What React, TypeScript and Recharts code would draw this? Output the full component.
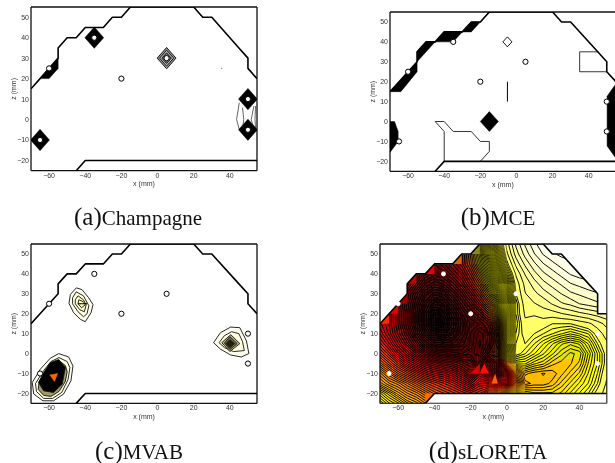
import React from "react";
import { Scatter, ScatterChart, XAxis, YAxis } from "recharts";

type Pair = [number, number];
type Pt = { x: number; z: number };

const xTicks = [-60, -40, -20, 0, 20, 40];
const zTicks = [-20, -10, 0, 10, 20, 30, 40, 50];

// dipole positions, same in all four panels
const sources: Pair[] = [[-60, 25], [-35, 40], [-20, 20], [5, 30], [50, 10], [50, -5], [-65, -10]];

// boundary of the source space
const headTop: Pair[] = [[-70, 15], [-65, 20], [-60, 25], [-55, 30], [-55, 35], [-50, 40], [-45, 40], [-40, 45], [-30, 45], [-25, 50], [-20, 50], [-15, 55], [20, 55], [25, 50], [30, 50], [45, 35], [50, 30], [50, 25], [55, 20]];
const headTopD: Pair[] = [[-70, 15], [-65, 20], [-60, 25], [-55, 30], [-55, 35], [-50, 40], [-45, 40], [-40, 45], [-30, 45], [-25, 50], [-20, 50], [-15, 55], [20, 55], [25, 50], [30, 50], [45, 35], [50, 30], [50, 20], [55, 20]];
const headBottom: Pair[] = [[-45, -25], [-40, -20], [55, -20]];
const plotFrame: Pair[] = [[-70, -25], [-70, 55], [55, 55], [55, -25], [-70, -25]];

// (a) Champagne
const champBlob: Pair[] = [[-65, 20], [-60, 20], [-55, 25], [-55, 30], [-60, 25]];
const champFan: Pair[][] = [
  [[45.2, 8.2], [43.7, 0], [45.2, -4.8]],
  [[47, 5.8], [47.7, 0], [47, -4.8]],
  [[53.3, 6.6], [51.8, 0], [53.3, -4.8]],
  [[54.2, 6.6], [53.9, 0], [54.2, -4]],
];
const champSpeck: Pair[] = [[35.2, 25], [35.8, 25]];

// (b) MCE
const mceBand: Pair[] = [[-70, 15], [-55, 30], [-55, 35], [-50, 40], [-45, 40], [-40, 45], [-30, 45], [-25, 50], [-20, 50], [-15, 55], [-25, 45], [-30, 45], [-35, 40], [-45, 40], [-50, 35], [-55, 30], [-55, 25], [-64, 15]];
const mceLeft: Pair[] = [[-70, 0], [-67.5, 0], [-65.5, -5], [-65.5, -10], [-70, -15.5]];
const mceRight: Pair[] = [[55.5, 19.5], [50.2, 12.7], [50.2, -12.3], [55.5, -19]];
const mceBox: Pair[] = [[45, 35], [35, 35], [35, 25], [50, 25]];
const mceShape: Pair[] = [[-40, -20], [-40, -5], [-45, 0], [-40, 0], [-35, -5], [-25, -5], [-20, -10], [-15, -10], [-15, -15], [-20, -20]];
const mceBar: Pair[] = [[-5, 20], [-5, 10]];

// (c) MVAB contours, outer to inner
const mvabUpper: Pair[][] = [
  [[-44.9, 33], [-41.8, 32.1], [-38.1, 28], [-35.7, 24.6], [-36.8, 20.5], [-40, 16], [-42.7, 17.2], [-46.4, 20.5], [-49, 25.2], [-48.2, 29.7]],
  [[-45, 31], [-41, 29], [-38, 24], [-39, 20], [-41, 18.5], [-44, 21], [-47, 25], [-47, 28]],
  [[-44, 29], [-41, 27], [-39.5, 24.5], [-40.5, 21], [-43, 22], [-45.5, 25], [-45.5, 27]],
  [[-43.5, 27], [-41, 26], [-40, 24.5], [-42, 23], [-44, 25]],
];
const mvabUpperBar: Pair[] = [[-44, 25], [-39, 25]];
const mvabRight: Pair[][] = [
  [[40.4, 13.3], [45.5, 13], [49.2, 6.3], [50.5, 0], [46.3, -1.7], [40.4, -0.7], [34.8, 2.2], [31, 5.5], [34.8, 10.5]],
  [[41, 11], [45, 10], [47, 6], [48, 1.5], [42, 1], [37, 3], [34, 5.5], [37, 9]],
  [[40.5, 9.5], [45.5, 5], [40, 1], [35.5, 5.5]],
  [[40, 8.5], [44, 5], [40, 2], [37, 5.3]],
  [[40, 7], [42.5, 5], [40, 3], [38, 5]],
];
const mvabLower: Pair[][] = [
  [[-54.7, 0], [-49.2, -1.7], [-46.8, -6.2], [-47.9, -13.7], [-52, -20.3], [-57.5, -23.7], [-63.4, -23.7], [-68.5, -20.3], [-69.3, -14.5], [-64.9, -7.9], [-59.3, -2.3]],
  [[-54.5, -2], [-50, -4], [-48.5, -7], [-49.5, -13], [-53, -19.5], [-58, -22.5], [-63, -22.5], [-67, -19], [-67.5, -15], [-63, -8.5], [-59, -4]],
  [[-54.5, -3.5], [-51, -6], [-50, -9], [-51, -14], [-54.5, -19], [-59, -21.5], [-63, -21], [-66, -18], [-65.5, -14], [-61.5, -9], [-58, -5]],
  [[-54.7, -3], [-51, -7], [-52.8, -15.4], [-57.5, -19.5], [-63, -18.7], [-65.8, -14.5], [-63, -9.5], [-59.3, -4.5]],
];
const mvabFills = ["#fffff0", "#ffffe0", "#a09a68", "#000000"];
const mvabUpperFills = ["#fffff0", "#ffffe0", "#ffffd0", "#ffffb8"];
const mvabRightFills = ["#fffff0", "#ffffe0", "#b8b488", "#70704a", "#202010"];
const mvabPeak: Pair[] = [[-59.6, -10.7], [-55.3, -10], [-57, -14]];

// (d) sLORETA source power in percent, 5 mm grid, rows from z = 55 down to z = -25
const gridX = [-70, -65, -60, -55, -50, -45, -40, -35, -30, -25, -20, -15, -10, -5, 0, 5, 10, 15, 20, 25, 30, 35, 40, 45, 50, 55];
const gridZ = [55, 50, 45, 40, 35, 30, 25, 20, 15, 10, 5, 0, -5, -10, -15, -20, -25];
const loreta: number[][] = [
  [60, 55, 50, 45, 42, 38, 33, 31, 30, 32, 36, 42, 55, 68, 78, 85, 90, 94, 97, 98, 99, 99, 99, 99, 99, 99],
  [55, 50, 46, 41, 37, 33, 28, 27, 27, 30, 36, 44, 54, 65, 76, 83, 88, 92, 95, 97, 98, 98, 98, 98, 98, 98],
  [50, 46, 42, 37, 32, 27, 22, 24, 27, 30, 35, 42, 50, 62, 73, 80, 85, 89, 92, 94, 96, 97, 97, 97, 97, 97],
  [46, 42, 37, 32, 27, 22, 20, 21, 24, 27, 32, 38, 46, 57, 69, 77, 82, 86, 89, 91, 93, 95, 96, 96, 96, 96],
  [42, 38, 33, 28, 23, 18, 16, 17, 20, 24, 29, 34, 41, 52, 65, 75, 80, 83, 86, 88, 90, 92, 93, 94, 94, 95],
  [40, 36, 30, 24, 19, 14, 11, 12, 16, 20, 25, 30, 36, 45, 62, 74, 79, 81, 83, 85, 87, 89, 90, 91, 92, 93],
  [37, 33, 28, 23, 17, 11, 7, 8, 12, 17, 21, 26, 31, 38, 58, 72, 78, 79, 80, 82, 84, 85, 87, 88, 89, 90],
  [37, 33, 28, 22, 16, 9, 3, 4, 9, 14, 18, 21, 25, 26, 55, 72, 77, 77, 78, 78, 79, 80, 81, 82, 83, 84],
  [36, 33, 28, 22, 16, 9, 2, 2, 7, 12, 16, 17, 20, 14, 55, 71, 76, 75, 75, 74, 74, 74, 75, 76, 78, 80],
  [38, 34, 29, 24, 18, 12, 7, 6, 9, 13, 17, 20, 18, 10, 55, 72, 75, 74, 73, 72, 71, 70, 71, 72, 75, 78],
  [41, 37, 32, 27, 22, 17, 13, 12, 13, 15, 17, 21, 17, 12, 60, 73, 74, 72, 70, 68, 66, 65, 66, 69, 73, 76],
  [45, 41, 36, 32, 28, 24, 21, 20, 19, 18, 19, 20, 14, 14, 62, 74, 72, 70, 68, 66, 64, 62.4, 63, 67, 71, 75],
  [50, 46, 42, 38, 35, 32, 30, 28, 27, 25, 23, 17, 20, 15, 58, 68, 68, 66, 65, 63, 62.2, 62.5, 64, 68, 71, 75],
  [56, 52, 48, 45, 42, 39, 37, 36, 34, 31, 27, 33, 27, 12, 25, 55, 62, 61, 60.5, 61, 62.3, 64, 66, 69, 72, 76],
  [60, 57, 55, 52, 49, 46, 44, 42, 40, 37, 34, 38, 38, 35, 28, 50, 60, 61, 61, 62, 64, 66, 68, 70, 73, 77],
  [66, 63, 60, 57, 55, 52, 49, 47, 45, 43, 41, 43, 47, 52, 66, 68, 66, 65, 65, 65, 66, 68, 70, 72, 75, 78],
  [70, 67, 65, 62, 60, 57, 54, 52, 50, 48, 46, 48, 52, 58, 68, 70, 68, 67, 67, 67, 68, 70, 72, 74, 77, 80],
];
const loretaTriangles: { pts: Pair[]; color: string }[] = [
  { pts: [[-45, 40], [-40, 45], [-40, 40]], color: "#e80000" },
  { pts: [[-55, 35], [-50, 40], [-50, 35]], color: "#c80000" },
  { pts: [[-60, 25], [-55, 30], [-55, 25]], color: "#a00000" },
  { pts: [[-65, 20], [-60, 25], [-60, 20]], color: "#e80000" },
  { pts: [[-70, 15], [-65, 20], [-65, 15]], color: "#f03000" },
  { pts: [[-30, 45], [-25, 50], [-25, 45]], color: "#d86000" },
  { pts: [[-20, 50], [-15, 55], [-15, 50]], color: "#8a8a10" },
  { pts: [[-45, -25], [-40, -20], [-45, -20]], color: "#ff7000" },
  { pts: [[-20, -10], [-15, -5], [-15, -10]], color: "#e00000" },
  { pts: [[-15, -10], [-12.5, -5], [-10, -10]], color: "#ff1000" },
  { pts: [[-8.5, -15], [-6.5, -10], [-5, -15]], color: "#ff6000" },
];
const colorStops: [number, number, number, number][] = [
  [0, 0, 0, 0], [20, 85, 0, 0], [37, 215, 0, 0], [50, 255, 112, 0], [60, 255, 176, 0], [62, 255, 195, 0], [66, 255, 235, 0],
  [70, 255, 255, 0], [74, 255, 255, 96], [85, 255, 255, 176], [100, 255, 255, 255],
];
// stroke width of a contour by how steep its grid cell is, thinner where lines crowd
const steepLimits = [7, 10, 14, 20, 1000];
const steepWidths = [0.95, 0.8, 0.6, 0.4, 0.25];
// contour levels get wider apart towards the pale end
const levels: number[] = [];
for (let l = 0.6; l < 100; l += l < 60 ? 1.25 : l < 73 ? 1.03 : 2.6) levels.push(l);

function colorOf(v: number, olive: number) {
  let i = 0;
  while (i < colorStops.length - 2 && v > colorStops[i + 1][0]) i++;
  const a = colorStops[i];
  const b = colorStops[i + 1];
  const t = Math.min(1, Math.max(0, (v - a[0]) / (b[0] - a[0])));
  const mix = (k: number) => a[k] + (b[k] - a[k]) * t;
  // olive side of the field: black to yellow without passing through red
  const g = v < 70 ? (255 * v) / 70 : 0;
  const w = v < 70 ? olive : 0;
  const r = Math.round(mix(1) * (1 - w) + g * w);
  const gr = Math.round(mix(2) * (1 - w) + g * w);
  const bl = Math.round(mix(3) * (1 - w));
  return `rgb(${r},${gr},${bl})`;
}

function valueAt(x: number, z: number) {
  const fx = Math.min(24.999, (x + 70) / 5);
  const fz = Math.min(15.999, (55 - z) / 5);
  const i = Math.floor(fx);
  const j = Math.floor(fz);
  const tx = fx - i;
  const tz = fz - j;
  const top = loreta[j][i] * (1 - tx) + loreta[j][i + 1] * tx;
  const bottom = loreta[j + 1][i] * (1 - tx) + loreta[j + 1][i + 1] * tx;
  return top * (1 - tz) + bottom * tz;
}

function bandValue(v: number) {
  let low = 0;
  let high = levels[0];
  for (const l of levels) {
    if (l <= v) {
      low = l;
      high = l;
    } else {
      high = l;
      break;
    }
  }
  return (low + high) / 2;
}

// pairs of opposite corners, one pair per small filled cell
const fillCells: Pt[] = [];
const fillColors: string[] = [];
for (let x = -70; x < 55; x += 1.25) {
  for (let z = -25; z < 55; z += 1.25) {
    fillCells.push({ x, z }, { x: x + 1.25, z: z + 1.25 });
    const center = -5 - Math.max(0, z - 10) * 0.45;
    const olive = z < -3 ? 0 : Math.round(Math.min(1, Math.max(0, (x - center + 5) / 10)) * 4) / 4;
    fillColors.push(colorOf(bandValue(valueAt(x + 0.625, z + 0.625)), olive));
  }
}

// marching squares over the read grid, two end points per segment
const contourBins: Pt[][] = steepWidths.map(() => []);
for (const level of levels) {
  for (let j = 0; j < gridZ.length - 1; j++) {
    for (let i = 0; i < gridX.length - 1; i++) {
      const corners: [number, number, number][] = [
        [gridX[i], gridZ[j], loreta[j][i]],
        [gridX[i + 1], gridZ[j], loreta[j][i + 1]],
        [gridX[i + 1], gridZ[j + 1], loreta[j + 1][i + 1]],
        [gridX[i], gridZ[j + 1], loreta[j + 1][i]],
      ];
      const cross: Pt[] = [];
      let steepest = 0;
      corners.forEach((a, k) => {
        const b = corners[(k + 1) % 4];
        steepest = Math.max(steepest, Math.abs(b[2] - a[2]));
        if (a[2] < level !== b[2] < level) {
          const t = (level - a[2]) / (b[2] - a[2]);
          cross.push({ x: a[0] + (b[0] - a[0]) * t, z: a[1] + (b[1] - a[1]) * t });
        }
      });
      const target = contourBins[steepLimits.findIndex((limit) => steepest <= limit)];
      if (cross.length >= 2) target.push(cross[0], cross[1]);
      if (cross.length === 4) target.push(cross[2], cross[3]);
    }
  }
}

const toPts = (pairs: Pair[]): Pt[] => pairs.map(([x, z]) => ({ x, z }));
const NoMark = () => null;

function poly(key: string, pairs: Pair[], fill: string, stroke: string, width: number) {
  const closed = fill !== "none";
  return (
    <Scatter
      key={key}
      data={toPts(pairs)}
      shape={NoMark}
      isAnimationActive={false}
      line={(p: any) => {
        const d = p.points.map((q: any, i: number) => `${i ? "L" : "M"}${q.x} ${q.y}`).join("") + (closed ? "Z" : "");
        return <path d={d} fill={fill} stroke={stroke} strokeWidth={width} strokeLinejoin="round" />;
      }}
    />
  );
}

function diamond(key: string, x: number, z: number, half: number, fill: string, stroke: string, width: number) {
  const pts: Pair[] = [[x - half, z], [x, z + half], [x + half, z], [x, z - half]];
  return poly(key, pts, fill, stroke, width);
}

function sourceDots(key: string, stroke: string, r: number) {
  return (
    <Scatter
      key={key}
      data={toPts(sources)}
      isAnimationActive={false}
      shape={(p: any) => <circle cx={p.cx} cy={p.cy} r={r} fill="#fff" stroke={stroke} strokeWidth={1} />}
    />
  );
}

function axes() {
  const ink = "#111";
  const textTick = { fill: "#333", fontSize: 7, fontFamily: "Liberation Sans" };
  const labelStyle = { fill: "#333", fontSize: 7, fontFamily: "Liberation Sans" };
  const fmt = (v: number) => (v < 0 ? `\u2212${Math.abs(v)}` : `${v}`);
  const line = { stroke: ink, strokeWidth: 1.3 };
  const tickLine = { stroke: "#555", strokeWidth: 0.7 };
  return [
    <XAxis key="xb" type="number" dataKey="x" domain={[-70, 55]} ticks={xTicks} allowDataOverflow height={22} tickSize={0} tickMargin={2} tickLine={false} axisLine={line} tick={textTick} tickFormatter={fmt} interval={0} label={{ value: "x (mm)", position: "center", dy: 2, style: labelStyle }} />,
    <YAxis key="yl" type="number" dataKey="z" domain={[-25, 55]} ticks={zTicks} allowDataOverflow width={30} tickSize={0} tickMargin={2} tickLine={false} axisLine={line} tick={textTick} tickFormatter={fmt} interval={0} label={{ value: "z (mm)", angle: -90, position: "center", dx: -2, style: labelStyle }} />,
    <XAxis key="xi" xAxisId="in" orientation="bottom" mirror type="number" domain={[-70, 55]} ticks={xTicks} height={1} tickSize={2} tick={false} tickLine={tickLine} axisLine={false} />,
    <XAxis key="xt" xAxisId="top" orientation="top" mirror type="number" domain={[-70, 55]} ticks={xTicks} height={1} tickSize={2} tick={false} tickLine={tickLine} axisLine={line} />,
    <YAxis key="yi" yAxisId="in" orientation="left" mirror type="number" domain={[-25, 55]} ticks={zTicks} width={1} tickSize={2} tick={false} tickLine={tickLine} axisLine={false} />,
    <YAxis key="yr" yAxisId="right" orientation="right" mirror type="number" domain={[-25, 55]} ticks={zTicks} width={1} tickSize={2} tick={false} tickLine={tickLine} axisLine={line} />,
  ];
}

function Panel({ left, right, top, bottom, children }: { left: number; right: number; top: number; bottom: number; children: React.ReactNode }) {
  const w = right - left + 38;
  const h = bottom - top + 27;
  return (
    <div style={{ position: "absolute", left: left - 30, top: top - 5, width: w, height: h }}>
      <ScatterChart width={w} height={h} margin={{ top: 5, right: 8, bottom: 0, left: 0 }}>
        {children}
        {axes()}
      </ScatterChart>
    </div>
  );
}

function head(top: Pair[]) {
  return [poly("top", top, "none", "#000", 1.6), poly("bottom", headBottom, "none", "#000", 1.6)];
}

function LoretaFill() {
  return (
    <Scatter
      data={fillCells}
      shape={NoMark}
      isAnimationActive={false}
      line={(p: any) => {
        const paths = new Map<string, string>();
        fillColors.forEach((c, i) => {
          const a = p.points[i * 2];
          const b = p.points[i * 2 + 1];
          paths.set(c, (paths.get(c) ?? "") + `M${a.x} ${a.y}H${b.x}V${b.y}H${a.x}Z`);
        });
        return (
          <g>
            {[...paths.entries()].map(([c, d]) => (
              <path key={c} d={d} fill={c} stroke={c} strokeWidth={0.4} />
            ))}
          </g>
        );
      }}
    />
  );
}

function loretaContours(key: string, segments: Pt[], width: number) {
  return (
    <Scatter
      key={key}
      data={segments}
      shape={NoMark}
      isAnimationActive={false}
      line={(p: any) => {
        let d = "";
        for (let i = 0; i + 1 < p.points.length; i += 2) {
          d += `M${p.points[i].x} ${p.points[i].y}L${p.points[i + 1].x} ${p.points[i + 1].y}`;
        }
        return <path d={d} fill="none" stroke="#000" strokeWidth={width} />;
      }}
    />
  );
}

const captionBase: React.CSSProperties = {
  position: "absolute",
  transform: "translateX(-50%)",
  whiteSpace: "nowrap",
  fontFamily: "Liberation Serif",
  fontSize: 21,
  lineHeight: "24px",
  color: "#111",
};

function Caption({ x, y, tag, name }: { x: number; y: number; tag: string; name: string }) {
  return (
    <div style={{ ...captionBase, left: x, top: y }}>
      <span style={{ fontSize: 25 }}>{tag}</span>
      <span>{name}</span>
    </div>
  );
}

export default function App() {
  return (
    <div style={{ position: "fixed", left: 0, top: 0, width: 615, height: 463, overflow: "hidden", background: "#fff", filter: "blur(0.4px)" }}>
      <Panel left={30.7} right={256.7} top={7.3} bottom={171}>
        {poly("blob", champBlob, "#000", "#000", 0.5)}
        {champFan.map((c, i) => poly(`fan${i}`, c, "none", "#222", 0.7))}
        {poly("speck", champSpeck, "none", "#555", 0.8)}
        {diamond("d1", -35, 40, 5.2, "#000", "#000", 0.5)}
        {diamond("d2", -65, -10, 5.2, "#000", "#000", 0.5)}
        {diamond("d3", 50, 10, 5.2, "#000", "#000", 0.5)}
        {diamond("d4", 50, -5, 5.2, "#000", "#000", 0.5)}
        {diamond("r1", 5, 30, 5.2, "#999", "#111", 1)}
        {diamond("r2", 5, 30, 3.9, "#bbb", "#111", 1)}
        {diamond("r3", 5, 30, 2.6, "#777", "#111", 1)}
        {head(headTop)}
        {sourceDots("dots", "#000", 2.6)}
      </Panel>

      <Panel left={389.6} right={615.4} top={12} bottom={171.3}>
        {poly("band", mceBand, "#000", "#000", 0.5)}
        {poly("left", mceLeft, "#000", "#000", 0.5)}
        {poly("right", mceRight, "#000", "#000", 0.5)}
        {poly("box", mceBox, "none", "#333", 1)}
        {poly("shape", mceShape, "none", "#333", 1)}
        {poly("bar", mceBar, "none", "#000", 1)}
        {diamond("open", -5, 40, 2.5, "#fff", "#000", 0.9)}
        {diamond("solid", -15, 0, 5, "#000", "#000", 0.5)}
        {head(headTop)}
        {sourceDots("dots", "#000", 2.6)}
      </Panel>

      <Panel left={30.7} right={256.7} top={244.3} bottom={403.7}>
        {mvabUpper.map((c, i) => poly(`u${i}`, c, mvabUpperFills[i], "#111", 0.9))}
        {poly("ubar", mvabUpperBar, "none", "#000", 1.1)}
        {mvabRight.map((c, i) => poly(`r${i}`, c, mvabRightFills[i], "#111", 0.9))}
        {mvabLower.map((c, i) => poly(`l${i}`, c, mvabFills[i], "#111", 0.9))}
        {poly("peak", mvabPeak, "#ff6600", "#ff6600", 0.5)}
        {head(headTop)}
        {sourceDots("dots", "#000", 2.6)}
      </Panel>

      <Panel left={380.3} right={607} top={244.3} bottom={403.7}>
        <LoretaFill />
        {contourBins.map((segments, i) => loretaContours(`contours${i}`, segments, steepWidths[i]))}
        {loretaTriangles.map((t, i) => poly(`t${i}`, t.pts, t.color, "none", 0))}
        {poly("maskTop", [...headTopD, [55, 55], [-70, 55]], "#fff", "#fff", 1)}
        {poly("maskBottom", [...headBottom, [55, -25]], "#fff", "#fff", 1)}
        {head(headTopD)}
        {poly("frame", plotFrame, "none", "#111", 1.3)}
        {sourceDots("dots", "#fff", 2)}
      </Panel>

      <Caption x={138} y={205} tag="(a)" name="Champagne" />
      <Caption x={498} y={205} tag="(b)" name="MCE" />
      <Caption x={139} y={439} tag="(c)" name="MVAB" />
      <Caption x={488} y={439} tag="(d)" name="sLORETA" />
    </div>
  );
}
